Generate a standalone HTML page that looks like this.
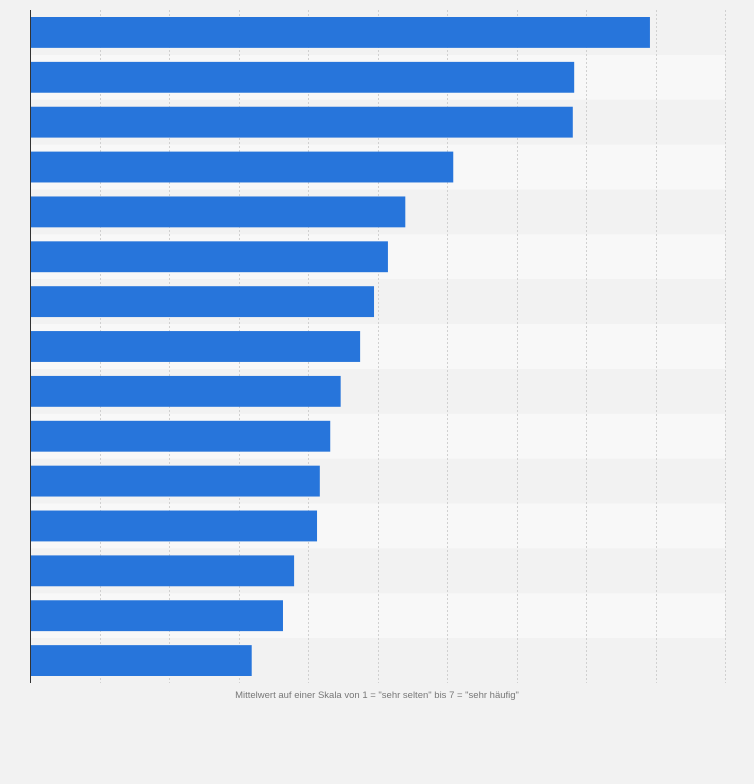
<!DOCTYPE html>
<html><head><meta charset="utf-8"><style>
body{margin:0;background:#f2f2f2;width:754px;height:779px;overflow:hidden;font-family:"Liberation Sans",sans-serif}
</style></head><body>
<svg id="chart" width="754" height="779" xmlns="http://www.w3.org/2000/svg">
<rect width="754" height="779" fill="#f2f2f2"/>
<g id="rows"></g><g id="grid"></g><g id="bars"></g>
<line x1="30.5" y1="10" x2="30.5" y2="683" stroke="#333" stroke-width="1"/>
<text x="377" y="698" font-size="9.5" fill="#777" text-anchor="middle">Mittelwert auf einer Skala von 1 = "sehr selten" bis 7 = "sehr häufig"</text>
</svg>
<script>
const categories = ["c1","c2","c3","c4","c5","c6","c7","c8","c9","c10","c11","c12","c13","c14","c15"];
const values = [8.92,7.83,7.81,6.09,5.40,5.15,4.95,4.75,4.47,4.32,4.17,4.13,3.80,3.64,3.19];
const ticks = [0,1,2,3,4,5,6,7,8,9,10];
const NS="http://www.w3.org/2000/svg";
const x0=30,x1=725,y0=10,y1=683,xmax=10;
const xs=v=>x0+(x1-x0)*v/xmax;
const rowH=(y1-y0)/categories.length;
const ys=i=>y0+i*rowH;
const rows=document.getElementById('rows'),grid=document.getElementById('grid'),bars=document.getElementById('bars');
categories.forEach((c,i)=>{
  const r=document.createElementNS(NS,'rect');
  
  
  r.setAttribute('x',x0);r.setAttribute('y',ys(i));r.setAttribute('width',x1-x0);r.setAttribute('height',rowH);
  r.setAttribute('fill',i%2?'#f8f8f8':'#f2f2f2');
  rows.appendChild(r);
});
ticks.forEach(t=>{
  if(t===0)return;
  const l=document.createElementNS(NS,'line');
  
  
  const x=Math.round(xs(t))+0.5;
  l.setAttribute('x1',x);l.setAttribute('x2',x);l.setAttribute('y1',y0);l.setAttribute('y2',y1);
  l.setAttribute('stroke','#d0d0d0');l.setAttribute('stroke-dasharray','2,2');
  grid.appendChild(l);
});
values.forEach((v,i)=>{
  const b=document.createElementNS(NS,'rect');
  
  
  b.setAttribute('x',x0);b.setAttribute('y',ys(i)+7);
  b.setAttribute('width',xs(v)-x0);b.setAttribute('height',rowH-14);
  b.setAttribute('fill','#2775db');
  bars.appendChild(b);
});
</script>
</body></html>
